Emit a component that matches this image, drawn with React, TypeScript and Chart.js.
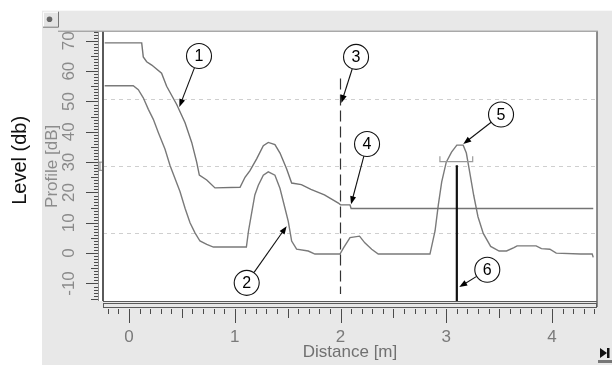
import React, { useEffect, useRef } from "react";
import { Chart, registerables } from "chart.js";

Chart.register(...registerables);

const FONT = "'Liberation Sans', Arial, Helvetica, sans-serif";

// Curve 1: upper profile (TVT curve), distance [m] / level [dB]
const upperDistance = [-0.23, 0.12, 0.135, 0.167, 0.215, 0.308, 0.356, 0.451, 0.53, 0.593, 0.64, 0.665, 0.735, 0.813, 1.05, 1.097, 1.144, 1.207, 1.27, 1.317, 1.38, 1.428, 1.49, 1.538, 1.63, 1.72, 1.848, 1.98, 2.0, 2.09, 2.1, 4.39];
const upperLevel = [69.3, 69.3, 64.7, 63.1, 62.0, 59.3, 55.0, 49.0, 43.0, 36.5, 30.0, 25.7, 24.1, 21.5, 21.7, 25.0, 27.2, 31.1, 35.4, 36.5, 35.8, 33.0, 27.8, 23.1, 22.6, 21.0, 19.2, 16.5, 15.9, 15.9, 14.7, 14.7];

// Curve 2: echo profile
const echoDistance = [-0.23, 0.04, 0.088, 0.135, 0.183, 0.23, 0.277, 0.34, 0.388, 0.435, 0.482, 0.53, 0.577, 0.624, 0.671, 0.735, 0.798, 1.11, 1.13, 1.157, 1.19, 1.223, 1.27, 1.317, 1.38, 1.428, 1.475, 1.506, 1.538, 1.585, 1.695, 1.758, 1.995, 2.03, 2.09, 2.18, 2.23, 2.295, 2.357, 2.846, 2.894, 2.925, 2.957, 3.0, 3.05, 3.1, 3.16, 3.19, 3.22, 3.26, 3.3, 3.35, 3.42, 3.5, 3.57, 3.64, 3.67, 3.85, 3.9, 3.98, 4.04, 4.27, 4.38, 4.39];
const echoLevel = [55.2, 55.2, 53.9, 51.2, 47.4, 44.1, 39.8, 34.3, 28.9, 24.6, 20.3, 14.8, 10.0, 6.7, 4.0, 2.9, 2.0, 2.0, 7.3, 12.7, 19.2, 22.4, 25.7, 26.8, 25.7, 21.3, 14.8, 10.5, 4.0, 1.3, 0.7, -0.3, -0.3, 1.8, 5.1, 5.6, 3.4, 1.3, -0.3, -0.3, 7.3, 15.9, 23.5, 30.0, 33.3, 35.6, 35.6, 33.0, 27.0, 19.0, 12.0, 6.5, 2.2, 0.7, 0.7, 1.8, 2.4, 2.4, 1.5, 1.3, 0.0, -0.3, -0.3, -1.4];

// Near blanking marker (3), echo marker (6), echo lock window
const blankingDistance = [2.0, 2.0];
const blankingLevel = [57.6, -13.5];
const markerDistance = [3.1, 3.1];
const markerLevel = [29.0, -15.78];
const windowDistance = [2.94, 2.94, 3.25, 3.25];
const windowLevel = [31.9, 30.2, 30.2, 31.9];

// Axes
const xMin = -0.2459;
const xMax = 4.4255;
const yMin = -15.78;
const yMax = 73.0;
const xTickValues = [0, 1, 2, 3, 4];
const yTickValues = [-10, 0, 10, 20, 30, 40, 50, 60, 70];
const gridQuarters = [0, 1, 2, 3, 4];

// Callouts: number, circle centre (distance, level), arrow tip (distance, level)
const calloutLabels = ["1", "2", "3", "4", "5", "6"];
const calloutX = [0.662, 1.113, 2.147, 2.251, 3.518, 3.388];
const calloutY = [65.0, -9.8, 64.7, 36.0, 45.7, -5.5];
const calloutTipX = [0.476, 1.491, 2.008, 2.1, 3.161, 3.123];
const calloutTipY = [48.2, 8.9, 49.5, 16.1, 36.0, -11.2];

const zip = (xs: number[], ys: number[]) => xs.map((x, i) => ({ x, y: ys[i] }));

const decor = {
  id: "decor",
  beforeDraw(chart: any) {
    const { ctx, chartArea: a } = chart;
    const ys = chart.scales.y;
    ctx.save();
    ctx.fillStyle = "#e8e8e8";
    ctx.fillRect(ys.left, a.top - 21, chart.width - ys.left, chart.height - a.top + 21);
    ctx.fillStyle = "#ffffff";
    ctx.fillRect(a.left, a.top, a.right - a.left, a.bottom - a.top);
    ctx.fillRect(a.left - 5, a.top, 5, a.bottom - a.top);
    ctx.restore();
  },
  afterDraw(chart: any) {
    const { ctx, chartArea: a } = chart;
    const xs = chart.scales.x;
    const ys = chart.scales.y;
    ctx.save();
    ctx.setLineDash([]);
    // x ruler
    ctx.fillStyle = "#4a4a4a";
    for (let i = -2; i <= 44; i++) {
      const px = Math.round(xs.getPixelForValue(i / 10));
      const len = i % 10 === 0 ? 14 : i % 5 === 0 ? 9 : 5;
      ctx.fillRect(px, a.bottom + 8, 1, len);
    }
    // y ruler
    const spineX = Math.round(a.left) - 5;
    for (let v = -15; v <= 73; v++) {
      const py = Math.round(ys.getPixelForValue(v));
      const len = v % 10 === 0 ? 12 : v % 5 === 0 ? 7 : 4;
      ctx.fillRect(spineX - len, py, len, 1);
    }
    ctx.fillStyle = "#8c8c8c";
    ctx.fillRect(spineX, Math.round(a.top), 1, Math.round(a.bottom - a.top));
    // frame
    ctx.strokeStyle = "#8a8a8a";
    ctx.lineWidth = 1;
    ctx.beginPath();
    ctx.moveTo(ys.left + 16, a.top - 0.5);
    ctx.lineTo(a.right + 1, a.top - 0.5);
    ctx.stroke();
    ctx.strokeStyle = "#5a5a5a";
    ctx.lineWidth = 2;
    ctx.beginPath();
    ctx.moveTo(a.left, a.top);
    ctx.lineTo(a.left, a.bottom);
    ctx.stroke();
    ctx.lineWidth = 1.5;
    ctx.strokeStyle = "#6a6a6a";
    ctx.beginPath();
    ctx.moveTo(a.right, a.top);
    ctx.lineTo(a.right, a.bottom + 6);
    ctx.stroke();
    ctx.lineWidth = 1;
    ctx.strokeStyle = "#5a5a5a";
    ctx.beginPath();
    ctx.moveTo(a.left, a.bottom + 0.5);
    ctx.lineTo(a.right, a.bottom + 0.5);
    ctx.stroke();
    ctx.strokeRect(a.left + 0.5, a.bottom + 2.5, a.right - a.left - 1, 4);
    // I-beam marker on the level axis
    ctx.strokeStyle = "#888888";
    const iTop = ys.getPixelForValue(30);
    const iBot = ys.getPixelForValue(27.3);
    ctx.beginPath();
    ctx.moveTo(a.left - 3, iTop); ctx.lineTo(a.left - 3, iBot);
    ctx.moveTo(a.left - 5, iTop); ctx.lineTo(a.left - 1, iTop);
    ctx.moveTo(a.left - 5, iBot); ctx.lineTo(a.left - 1, iBot);
    ctx.stroke();
    // callouts
    ctx.strokeStyle = "#111";
    for (let i = 0; i < calloutLabels.length; i++) {
      const cx = xs.getPixelForValue(calloutX[i]);
      const cy = ys.getPixelForValue(calloutY[i]);
      const tx = xs.getPixelForValue(calloutTipX[i]);
      const ty = ys.getPixelForValue(calloutTipY[i]);
      const r = 12.5;
      const ang = Math.atan2(ty - cy, tx - cx);
      const c = Math.cos(ang), s = Math.sin(ang);
      ctx.lineWidth = 1.1;
      ctx.beginPath();
      ctx.moveTo(cx + r * c, cy + r * s);
      ctx.lineTo(tx - 6 * c, ty - 6 * s);
      ctx.stroke();
      ctx.fillStyle = "#000";
      ctx.beginPath();
      ctx.moveTo(tx, ty);
      ctx.lineTo(tx - 8 * c + 3 * s, ty - 8 * s - 3 * c);
      ctx.lineTo(tx - 8 * c - 3 * s, ty - 8 * s + 3 * c);
      ctx.closePath();
      ctx.fill();
      ctx.beginPath();
      ctx.arc(cx, cy, r, 0, Math.PI * 2);
      ctx.fillStyle = "#fff";
      ctx.fill();
      ctx.stroke();
      ctx.fillStyle = "#000";
      ctx.font = `16px ${FONT}`;
      ctx.textAlign = "center";
      ctx.textBaseline = "middle";
      ctx.fillText(calloutLabels[i], cx, cy + 1);
    }
    // outer axis label
    ctx.save();
    ctx.translate(20, (a.top + a.bottom) / 2 - 6);
    ctx.rotate(-Math.PI / 2);
    ctx.font = `20px ${FONT}`;
    ctx.fillStyle = "#111";
    ctx.textAlign = "center";
    ctx.textBaseline = "middle";
    ctx.fillText("Level (db)", 0, 0);
    ctx.restore();
    // top-left button
    const bx = ys.left + 1, by = a.top - 20;
    ctx.fillStyle = "#e4e4e4";
    ctx.fillRect(bx, by, 15, 15);
    ctx.strokeStyle = "#ffffff";
    ctx.lineWidth = 1;
    ctx.beginPath();
    ctx.moveTo(bx + 0.5, by + 15); ctx.lineTo(bx + 0.5, by + 0.5); ctx.lineTo(bx + 15, by + 0.5);
    ctx.stroke();
    ctx.strokeStyle = "#777";
    ctx.beginPath();
    ctx.moveTo(bx + 15.5, by); ctx.lineTo(bx + 15.5, by + 15.5); ctx.lineTo(bx, by + 15.5);
    ctx.stroke();
    ctx.fillStyle = "#666";
    ctx.beginPath();
    ctx.arc(bx + 6.5, by + 7.5, 2.8, 0, Math.PI * 2);
    ctx.fill();
    // bottom-right button
    const rx = a.right + 3, ry = chart.height - 17;
    ctx.fillStyle = "#111";
    ctx.beginPath();
    ctx.moveTo(rx, ry); ctx.lineTo(rx + 7, ry + 5); ctx.lineTo(rx, ry + 10); ctx.closePath();
    ctx.fill();
    ctx.fillRect(rx + 7, ry, 2.5, 10);
    ctx.fillStyle = "#777";
    ctx.fillRect(rx - 2, ry + 12, 14, 3);
    ctx.restore();
  },
};

export default function App() {
  const ref = useRef<HTMLCanvasElement>(null);
  useEffect(() => {
    if (!ref.current) return;
    Chart.defaults.font.family = FONT;
    const lineStyle = { pointRadius: 0, borderWidth: 1.4, tension: 0, fill: false, showLine: true };
    const chart = new Chart(ref.current, {
      type: "line",
      data: {
        datasets: [
          { label: "Echo marker", data: zip(markerDistance, markerLevel), borderColor: "#111111", ...lineStyle, borderWidth: 2.2 },
          { label: "Echo window", data: zip(windowDistance, windowLevel), borderColor: "#9a9a9a", ...lineStyle, borderWidth: 1.2 },
          { label: "Near blanking", data: zip(blankingDistance, blankingLevel), borderColor: "#333333", ...lineStyle, borderWidth: 1.2, borderDash: [11, 5] },
          { label: "TVT", data: zip(upperDistance, upperLevel), borderColor: "#747474", ...lineStyle },
          { label: "Echo profile", data: zip(echoDistance, echoLevel), borderColor: "#7a7a7a", ...lineStyle },
        ],
      },
      options: {
        animation: false,
        responsive: false,
        maintainAspectRatio: false,
        events: [],
        layout: { padding: { left: 0, top: 28, right: 15, bottom: 0 } },
        plugins: { legend: { display: false }, tooltip: { enabled: false } },
        scales: {
          x: {
            type: "linear",
            position: "bottom",
            min: xMin,
            max: xMax,
            afterFit: (s: any) => { s.height = 64; },
            afterBuildTicks: (s: any) => { s.ticks = xTickValues.map((v) => ({ value: v })); },
            ticks: { color: "#7a7a7a", font: { size: 17, family: FONT }, padding: 26, maxRotation: 0, autoSkip: false },
            grid: { display: false, drawTicks: false },
            border: { display: false },
            title: { display: true, text: "Distance [m]", color: "#707070", font: { size: 17, family: FONT }, padding: { top: 0, bottom: 2 } },
          },
          y: {
            type: "linear",
            position: "left",
            weight: 0,
            min: yMin,
            max: yMax,
            afterFit: (s: any) => { s.width = 61; },
            afterBuildTicks: (s: any) => { s.ticks = yTickValues.map((v) => ({ value: v })); },
            ticks: { color: "#8a8a8a", font: { size: 17, family: FONT }, padding: 21.5, minRotation: 90, maxRotation: 90, crossAlign: "center", autoSkip: false },
            grid: { display: false, drawTicks: false },
            border: { display: false },
            title: { display: true, text: "Profile [dB]", color: "#8c8c8c", font: { size: 17, family: FONT }, padding: { top: 0, bottom: 0 } },
          },
          grid4: {
            type: "linear",
            position: "left",
            weight: 10,
            min: 0,
            max: 4,
            afterFit: (s: any) => { s.width = 42; },
            afterBuildTicks: (s: any) => { s.ticks = gridQuarters.map((v) => ({ value: v })); },
            ticks: { display: false },
            grid: {
              drawTicks: false,
              lineWidth: 1,
              color: (c: any) => (c.tick && (c.tick.value === 0 || c.tick.value === 4) ? "rgba(0,0,0,0)" : "#cfcfcf"),
            },
            border: { display: false, dash: [4, 4] },
          },
        },
      } as any,
      plugins: [decor],
    });
    return () => chart.destroy();
  }, []);
  return (
    <div style={{ position: "absolute", left: 0, top: 0, width: 612, height: 365 }}>
      <canvas ref={ref} width={612} height={365} style={{ width: 612, height: 365, display: "block" }} />
    </div>
  );
}
